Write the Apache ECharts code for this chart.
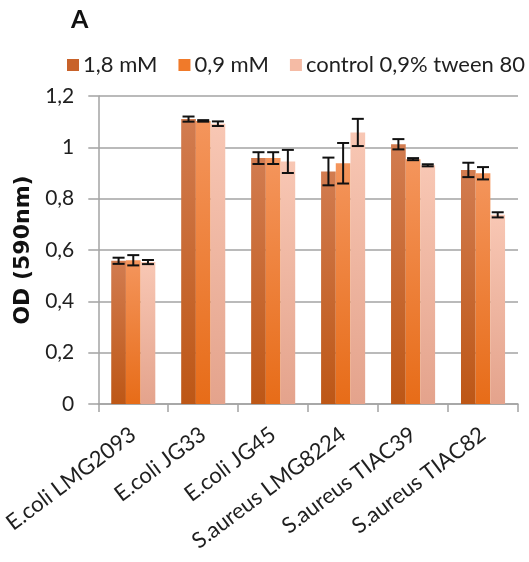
<!DOCTYPE html>
<html>
<head>
<meta charset="utf-8">
<script src="https://cdn.jsdelivr.net/npm/echarts@6/dist/echarts.min.js"></script>
<style>
  html, body { margin: 0; padding: 0; background: #fff; }
  #chart { width: 529px; height: 562px; }
</style>
</head>
<body>
<div id="chart"></div>
<script>
// Strains on the category axis
const categories = ['E.coli LMG2093', 'E.coli JG33', 'E.coli JG45', 'S.aureus LMG8224', 'S.aureus TIAC39', 'S.aureus TIAC82'];

// Series names
const seriesNames = ['1,8 mM', '0,9 mM', 'control 0,9% tween 80'];

// Mean OD at 590 nm
const od18 = [0.558, 1.110, 0.958, 0.906, 1.012, 0.912];
const od09 = [0.560, 1.103, 0.958, 0.938, 0.954, 0.899];
const odCtrl = [0.553, 1.092, 0.945, 1.058, 0.930, 0.737];

// Standard deviations (error bars)
const sd18 = [0.012, 0.010, 0.023, 0.054, 0.020, 0.028];
const sd09 = [0.020, 0.003, 0.023, 0.079, 0.004, 0.024];
const sdCtrl = [0.008, 0.009, 0.045, 0.053, 0.004, 0.010];

// Y axis tick labels (decimal comma)
const yTickValues = [0, 0.2, 0.4, 0.6, 0.8, 1, 1.2];
const yTickLabels = ['0', '0,2', '0,4', '0,6', '0,8', '1', '1,2'];

const FONT = 'Lato';
const TEXT = '#1f1f1f';
const GRID = '#a3a3a3';

const gradients = [
  ['#d27c50', '#bd5716'],
  ['#f4955c', '#e76c18'],
  ['#f8c7b4', '#e4a38c']
];
const legendColors = ['#c8622a', '#f07a2a', '#f5bba5'];

function grad(pair) {
  return new echarts.graphic.LinearGradient(0, 0, 0, 1, [
    { offset: 0, color: pair[0] },
    { offset: 1, color: pair[1] }
  ]);
}

const values = [od18, od09, odCtrl];
const errors = [sd18, sd09, sdCtrl];
const CAT_GAP = 0.37;

const barSeries = seriesNames.map((name, i) => ({
  name: name,
  type: 'bar',
  barGap: '0%',
  barCategoryGap: (CAT_GAP * 100) + '%',
  itemStyle: { color: grad(gradients[i]) },
  data: values[i],
  z: 2
}));

// Error bars drawn on top of each bar
const errorSeries = seriesNames.map((name, i) => ({
  type: 'custom',
  name: name + ' err',
  z: 5,
  silent: true,
  encode: { x: 0, y: 1 },
  renderItem: function (params, api) {
    const ci = api.value(0);
    const v = api.value(1);
    const e = api.value(2);
    const band = api.size([1, 0])[0];
    const barW = band * (1 - CAT_GAP) / 3;
    const cx = api.coord([ci, v])[0] + (i - 1) * barW;
    const yHi = api.coord([ci, v + e])[1];
    const yLo = api.coord([ci, v - e])[1];
    const cap = 6;
    const style = { stroke: '#111', lineWidth: 2 };
    return {
      type: 'group',
      children: [
        { type: 'line', shape: { x1: cx, y1: yHi, x2: cx, y2: yLo }, style: style },
        { type: 'line', shape: { x1: cx - cap, y1: yHi, x2: cx + cap, y2: yHi }, style: style },
        { type: 'line', shape: { x1: cx - cap, y1: yLo, x2: cx + cap, y2: yLo }, style: style }
      ]
    };
  },
  data: values[i].map((v, k) => [k, v, errors[i][k]])
}));

const chart = echarts.init(document.getElementById('chart'), null, { renderer: 'canvas' });
chart.setOption({
  animation: false,
  backgroundColor: '#fff',
  color: legendColors,
  textStyle: { fontFamily: FONT, color: TEXT },
  title: {
    text: 'A',
    left: 66,
    top: 2,
    textStyle: { fontFamily: FONT, fontWeight: 'bold', fontSize: 25, color: '#111' }
  },
  legend: {
    data: seriesNames.map((n, i) => ({ name: n, itemStyle: { color: legendColors[i] } })),
    left: 67,
    top: 54,
    width: 520,
    padding: 0,
    icon: 'rect',
    itemWidth: 12,
    itemHeight: 12,
    itemGap: 21,
    textStyle: { fontFamily: FONT, fontSize: 22, color: TEXT, padding: [0, 0, 0, -1] }
  },
  grid: { left: 98, right: 11, top: 96, bottom: 158, containLabel: false },
  xAxis: {
    type: 'category',
    data: categories,
    axisLine: { lineStyle: { color: GRID, width: 1.5 } },
    axisTick: { show: true, length: 8, lineStyle: { color: GRID, width: 1.5 } },
    axisLabel: {
      rotate: 37,
      margin: 28,
      interval: 0,
      fontFamily: FONT,
      fontSize: 22,
      color: TEXT
    }
  },
  yAxis: {
    type: 'value',
    min: 0,
    max: 1.2,
    interval: 0.2,
    name: 'OD (590nm)',
    nameLocation: 'middle',
    nameGap: 60,
    nameTextStyle: { fontFamily: 'DejaVu Sans', fontWeight: 'bold', fontSize: 22, color: '#111' },
    axisLine: { show: true, lineStyle: { color: GRID, width: 1.5 } },
    axisTick: { show: true, inside: false, length: 10, lineStyle: { color: GRID, width: 1.5 } },
    axisLabel: {
      margin: 24,
      fontFamily: FONT,
      fontSize: 21,
      color: TEXT,
      formatter: function (v) {
        const k = yTickValues.findIndex(t => Math.abs(t - v) < 1e-6);
        return k >= 0 ? yTickLabels[k] : '';
      }
    },
    splitLine: { show: true, lineStyle: { color: GRID, width: 1.5 } }
  },
  series: barSeries.concat(errorSeries)
});
</script>
</body>
</html>
